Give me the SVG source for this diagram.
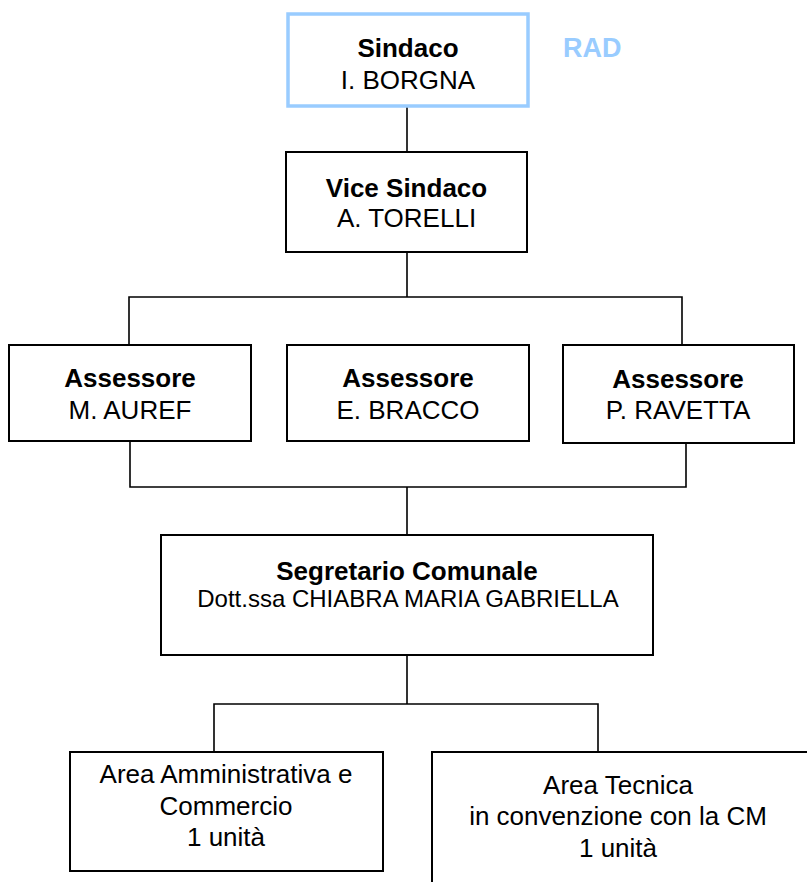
<svg xmlns="http://www.w3.org/2000/svg" width="807" height="882" viewBox="0 0 807 882">
<style>
.box{fill:#fff;stroke:#000;stroke-width:2}
.blue{fill:#fff;stroke:#99CCFF;stroke-width:3.5}
.t{font-family:"Liberation Sans",Arial,sans-serif;font-size:26px;fill:#000;text-anchor:middle}
.b{font-weight:bold}
.s{font-size:24px}
.rad{font-family:"Liberation Sans",Arial,sans-serif;font-size:27px;font-weight:bold;fill:#99CCFF}
.c{fill:none;stroke:#000;stroke-width:1.6}
</style>
<rect width="807" height="882" fill="#fff"/>
<g id="connectors">
<path class="c" d="M407 107V152"/>
<path class="c" d="M407 252V297M129 345V297H682V345"/>
<path class="c" d="M130 442V487H686V443M407 487V535"/>
<path class="c" d="M407 655V704M214 752V704H598V752"/>
</g>
<g id="sindaco">
<rect class="blue" x="288" y="14" width="240" height="92"/>
<text class="t b" x="408" y="57">Sindaco</text>
<text class="t" x="408" y="89">I. BORGNA</text>
</g>
<text id="rad" class="rad" x="563" y="57">RAD</text>
<g id="vicesindaco">
<rect class="box" x="286" y="152" width="241" height="100"/>
<text class="t b" x="406.5" y="197">Vice Sindaco</text>
<text class="t" x="406.5" y="227">A. TORELLI</text>
</g>
<g id="assessore1">
<rect class="box" x="9" y="345" width="242" height="96"/>
<text class="t b" x="130" y="387">Assessore</text>
<text class="t" x="130" y="419">M. AUREF</text>
</g>
<g id="assessore2">
<rect class="box" x="287" y="345" width="242" height="96"/>
<text class="t b" x="408" y="387">Assessore</text>
<text class="t" x="408" y="419">E. BRACCO</text>
</g>
<g id="assessore3">
<rect class="box" x="563" y="345" width="231" height="98"/>
<text class="t b" x="678" y="388">Assessore</text>
<text class="t" x="678" y="419">P. RAVETTA</text>
</g>
<g id="segretario">
<rect class="box" x="161" y="535" width="492" height="120"/>
<text class="t b" x="407" y="580">Segretario Comunale</text>
<text class="t s" x="408" y="607">Dott.ssa CHIABRA MARIA GABRIELLA</text>
</g>
<g id="area-amministrativa">
<rect class="box" x="70" y="752" width="313" height="119"/>
<text class="t" x="226" y="783">Area Amministrativa e</text>
<text class="t" x="226" y="815">Commercio</text>
<text class="t" x="226" y="846">1 unità</text>
</g>
<g id="area-tecnica">
<rect class="box" x="432" y="752" width="385" height="150"/>
<text class="t" x="618" y="794">Area Tecnica</text>
<text class="t" x="618" y="825">in convenzione con la CM</text>
<text class="t" x="618" y="857">1 unità</text>
</g>
</svg>
